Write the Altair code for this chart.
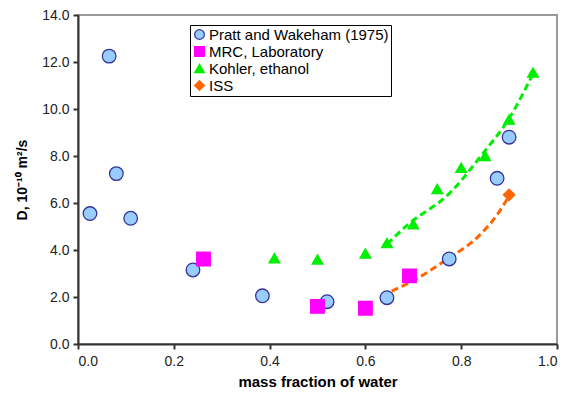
import altair as alt
import pandas as pd

# ---- data ----
pratt_x = [0.025, 0.065, 0.08, 0.11, 0.24, 0.385, 0.52, 0.645, 0.775, 0.875, 0.9]
pratt_y = [5.55, 12.25, 7.25, 5.35, 3.15, 2.05, 1.8, 1.97, 3.62, 7.05, 8.8]

mrc_x = [0.262, 0.5, 0.6, 0.692]
mrc_y = [3.62, 1.6, 1.52, 2.9]

kohler_x = [0.41, 0.5, 0.6, 0.645, 0.7, 0.75, 0.8, 0.85, 0.9, 0.95]
kohler_y = [3.65, 3.6, 3.85, 4.3, 5.1, 6.6, 7.5, 8.0, 9.55, 11.55]

iss_x = [0.9]
iss_y = [6.35]

# dashed trend curves
green_fit_x = [0.645, 0.69, 0.775, 0.845, 0.9, 0.95]
green_fit_y = [4.25, 5.1, 6.4, 8.1, 9.6, 11.5]
orange_fit_x = [0.655, 0.70, 0.77, 0.837, 0.875, 0.9]
orange_fit_y = [2.25, 2.7, 3.6, 4.6, 5.5, 6.3]

series_names = ["Pratt and Wakeham (1975)", "MRC, Laboratory", "Kohler, ethanol", "ISS"]
fill_colors = ["#99CCFF", "#FF00FF", "#00EE00", "#FF6600"]
stroke_colors = ["#333399", "#FF00FF", "#00EE00", "#FF6600"]
shapes = ["circle", "square", "triangle-up", "diamond"]
marker_sizes = [185, 185, 115, 130]

FONT = "Liberation Sans"

xscale = alt.Scale(domain=[0, 1], nice=False, zero=False)
yscale = alt.Scale(domain=[0, 14], nice=False, zero=False)

xaxis = alt.Axis(title="mass fraction of water", values=[0, 0.2, 0.4, 0.6, 0.8, 1.0],
                 format=".1f", grid=False)
yaxis = alt.Axis(title="D, 10⁻¹⁰ m²/s", values=[0, 2, 4, 6, 8, 10, 12, 14],
                 format=".1f", grid=False)

dash = [7, 4]

green_df = pd.DataFrame({"x": green_fit_x, "y": green_fit_y})
orange_df = pd.DataFrame({"x": orange_fit_x, "y": orange_fit_y})

green_line = alt.Chart(green_df).mark_line(
    color="#00EE00", strokeWidth=3, strokeDash=dash, interpolate="monotone"
).encode(x=alt.X("x:Q", scale=xscale, axis=xaxis), y=alt.Y("y:Q", scale=yscale, axis=yaxis))

orange_line = alt.Chart(orange_df).mark_line(
    color="#FF6600", strokeWidth=3, strokeDash=dash, interpolate="monotone"
).encode(x=alt.X("x:Q", scale=xscale, axis=xaxis), y=alt.Y("y:Q", scale=yscale, axis=yaxis))

# blank (non-breaking spaces) side title only widens the legend frame
legend = alt.Legend(
    title="\u00a0" * 8, titleOrient="right", titlePadding=0, titleFontSize=15, titleFont=FONT,
    orient="none", legendX=112, legendY=10,
    strokeColor="#000000", fillColor="#FFFFFF", padding=2,
    labelFont=FONT, labelFontSize=15, labelColor="#000000", labelLimit=400,
    symbolSize=95, symbolStrokeWidth=1.2, rowPadding=1, labelOffset=2,
)

fill_enc = alt.Fill("series:N", scale=alt.Scale(domain=series_names, range=fill_colors), legend=legend)
stroke_enc = alt.Stroke("series:N", scale=alt.Scale(domain=series_names, range=stroke_colors), legend=legend)
shape_enc = alt.Shape("series:N", scale=alt.Scale(domain=series_names, range=shapes), legend=legend)

point_layers = []
for name, xs, ys, size in zip(series_names, [pratt_x, mrc_x, kohler_x, iss_x],
                              [pratt_y, mrc_y, kohler_y, iss_y], marker_sizes):
    df = pd.DataFrame({"series": [name] * len(xs), "x": xs, "y": ys})
    point_layers.append(
        alt.Chart(df).mark_point(filled=True, opacity=1, strokeWidth=1.3, size=size).encode(
            x=alt.X("x:Q", scale=xscale, axis=xaxis),
            y=alt.Y("y:Q", scale=yscale, axis=yaxis),
            fill=fill_enc, stroke=stroke_enc, shape=shape_enc,
        )
    )

chart = alt.layer(green_line, orange_line, *point_layers).properties(
    width=479, height=329,
    autosize=alt.AutoSizeParams(type="none"),
    padding={"left": 70, "top": 7, "right": 2, "bottom": 47},
).configure_view(
    stroke="#999999", strokeWidth=2
).configure_axis(
    labelFont=FONT, labelFontSize=14, labelColor="#222222",
    titleFont=FONT, titleFontWeight="bold", titleColor="#000000",
    domainColor="#333333", domainWidth=2, tickColor="#333333", tickWidth=2, tickSize=5,
).configure_axisX(
    labelPadding=5, titleFontSize=15, titlePadding=6,
).configure_axisY(
    labelPadding=4, titleFontSize=14, titlePadding=12,
)

chart.save("out.html", embed_options={"renderer": "svg", "actions": False})
